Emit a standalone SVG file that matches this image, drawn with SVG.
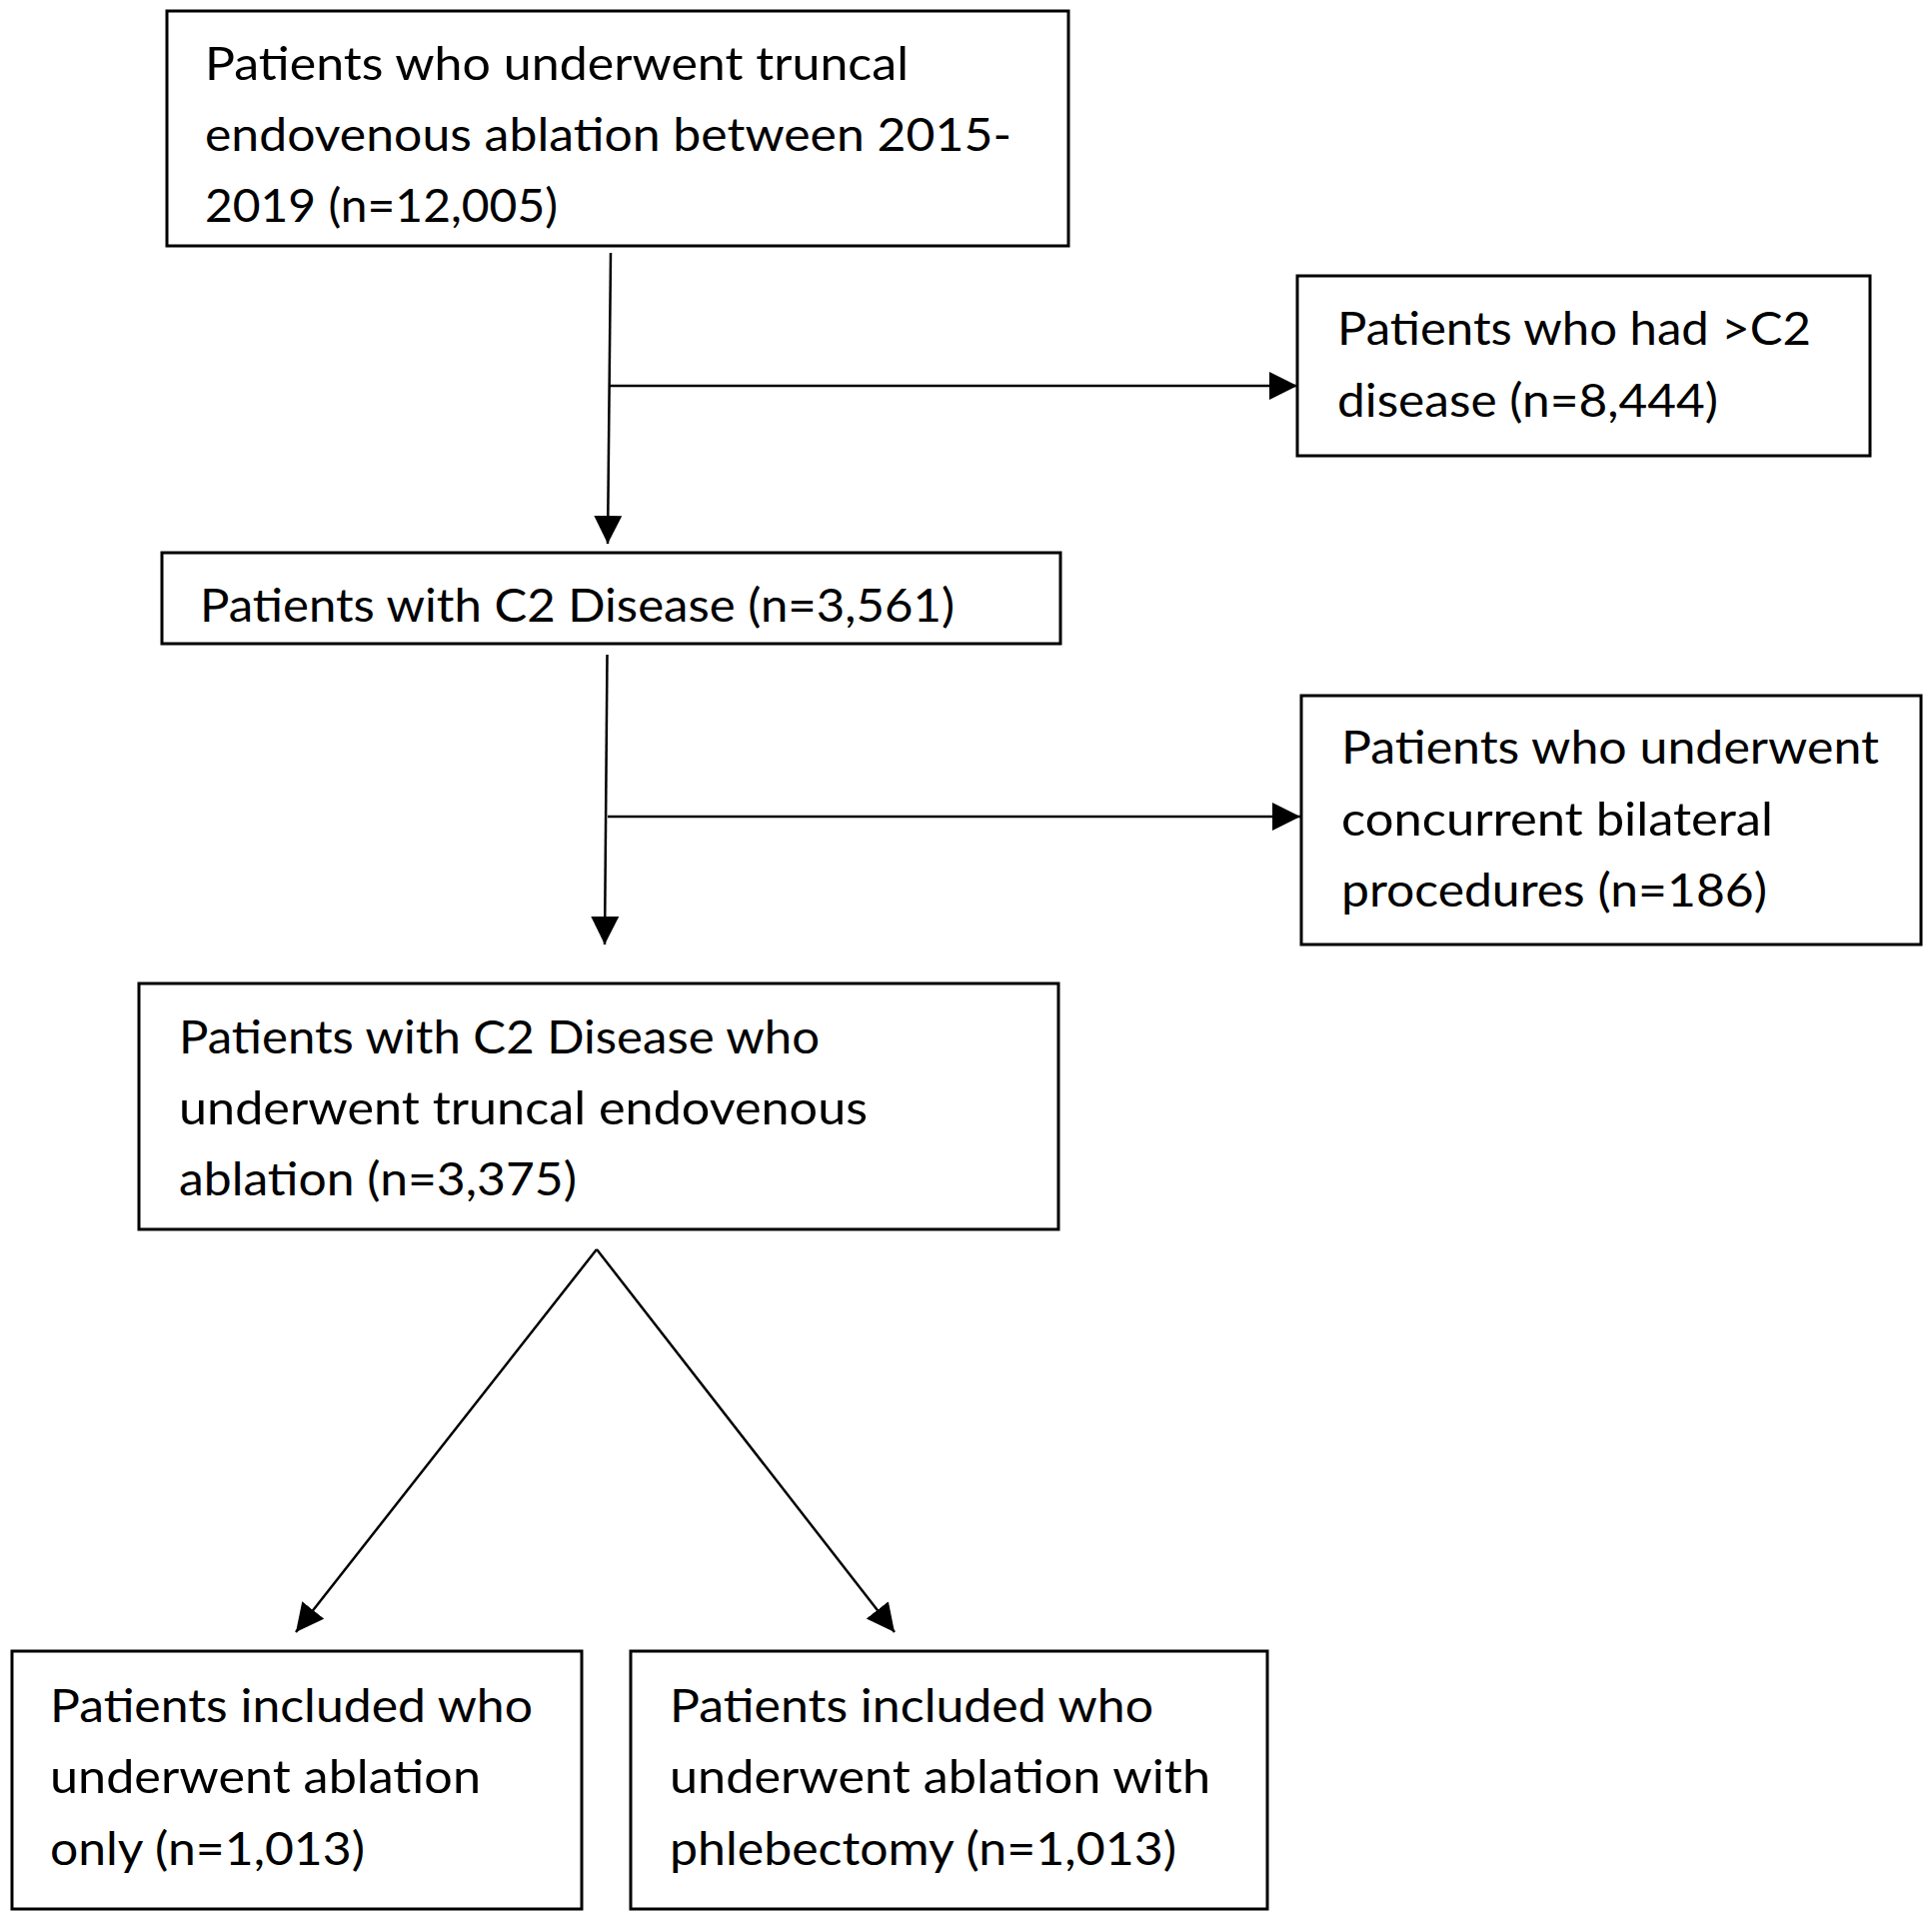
<svg xmlns="http://www.w3.org/2000/svg" width="1933" height="1920" viewBox="0 0 1933 1920">
  <style>
    .box { fill: #ffffff; stroke: #000000; stroke-width: 3; }
    .lbl { font-family: Lato, "Liberation Sans", sans-serif; font-size: 46px; fill: #000000; }
    .conn { fill: none; stroke: #000000; stroke-width: 2.5; }
  </style>
  <defs>
    <marker id="arrow" markerUnits="userSpaceOnUse" markerWidth="30" markerHeight="30" refX="28" refY="14" orient="auto" viewBox="0 0 30 30">
      <path d="M0,0 L28,14 L0,28 Z" fill="#000000"/>
    </marker>
  </defs>
  <rect x="0" y="0" width="1933" height="1920" fill="#ffffff"/>

  <g id="connectors">
    <path class="conn" d="M611,253 L608,544" marker-end="url(#arrow)"/>
    <path class="conn" d="M609,386 L1298,386" marker-end="url(#arrow)"/>
    <path class="conn" d="M607.5,655 L605,945" marker-end="url(#arrow)"/>
    <path class="conn" d="M608,817 L1301,817" marker-end="url(#arrow)"/>
    <path class="conn" d="M597,1250 L296,1633" marker-end="url(#arrow)"/>
    <path class="conn" d="M597,1250 L895,1633" marker-end="url(#arrow)"/>
  </g>

  <g id="node-total">
    <rect class="box" x="167" y="11" width="902" height="235"/>
    <text class="lbl" x="205" y="80" textLength="704" lengthAdjust="spacingAndGlyphs">Patients who underwent truncal</text>
    <text class="lbl" x="205" y="151" textLength="807" lengthAdjust="spacingAndGlyphs">endovenous ablation between 2015-</text>
    <text class="lbl" x="205" y="222" textLength="353" lengthAdjust="spacingAndGlyphs">2019 (n=12,005)</text>
  </g>

  <g id="node-excl-c2plus">
    <rect class="box" x="1298" y="276" width="573" height="180"/>
    <text class="lbl" x="1338" y="345" textLength="474" lengthAdjust="spacingAndGlyphs">Patients who had &gt;C2</text>
    <text class="lbl" x="1338" y="417" textLength="381" lengthAdjust="spacingAndGlyphs">disease (n=8,444)</text>
  </g>

  <g id="node-c2">
    <rect class="box" x="162" y="553" width="899" height="91"/>
    <text class="lbl" x="200" y="622" textLength="755" lengthAdjust="spacingAndGlyphs">Patients with C2 Disease (n=3,561)</text>
  </g>

  <g id="node-excl-bilateral">
    <rect class="box" x="1302" y="696" width="620" height="249"/>
    <text class="lbl" x="1342" y="764" textLength="538" lengthAdjust="spacingAndGlyphs">Patients who underwent</text>
    <text class="lbl" x="1342" y="836" textLength="432" lengthAdjust="spacingAndGlyphs">concurrent bilateral</text>
    <text class="lbl" x="1342" y="907" textLength="426" lengthAdjust="spacingAndGlyphs">procedures (n=186)</text>
  </g>

  <g id="node-c2-ablation">
    <rect class="box" x="139" y="984" width="920" height="246"/>
    <text class="lbl" x="179" y="1054" textLength="641" lengthAdjust="spacingAndGlyphs">Patients with C2 Disease who</text>
    <text class="lbl" x="179" y="1125" textLength="689" lengthAdjust="spacingAndGlyphs">underwent truncal endovenous</text>
    <text class="lbl" x="179" y="1196" textLength="398" lengthAdjust="spacingAndGlyphs">ablation (n=3,375)</text>
  </g>

  <g id="node-ablation-only">
    <rect class="box" x="12" y="1652" width="570" height="258"/>
    <text class="lbl" x="50" y="1723" textLength="483" lengthAdjust="spacingAndGlyphs">Patients included who</text>
    <text class="lbl" x="50" y="1794" textLength="431" lengthAdjust="spacingAndGlyphs">underwent ablation</text>
    <text class="lbl" x="50" y="1866" textLength="315" lengthAdjust="spacingAndGlyphs">only (n=1,013)</text>
  </g>

  <g id="node-ablation-phlebectomy">
    <rect class="box" x="631" y="1652" width="637" height="258"/>
    <text class="lbl" x="670" y="1723" textLength="484" lengthAdjust="spacingAndGlyphs">Patients included who</text>
    <text class="lbl" x="670" y="1794" textLength="541" lengthAdjust="spacingAndGlyphs">underwent ablation with</text>
    <text class="lbl" x="670" y="1866" textLength="507" lengthAdjust="spacingAndGlyphs">phlebectomy (n=1,013)</text>
  </g>
</svg>
